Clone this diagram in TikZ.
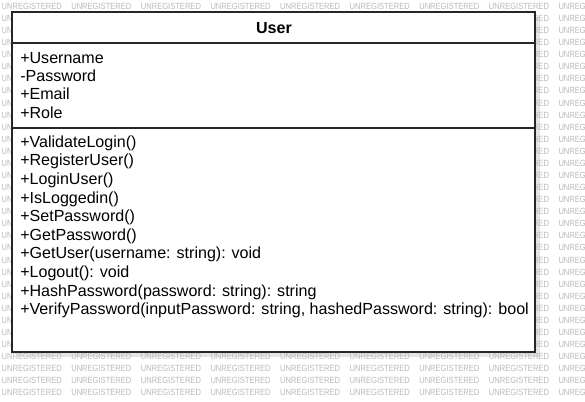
\documentclass[tikz,border=0pt]{standalone}
\usepackage{fontspec}
\setmainfont{Liberation Sans}
\begin{document}
\begin{tikzpicture}[x=0.75pt,y=-0.75pt,
  wm/.style={anchor=west,inner sep=0pt,font=\fontsize{6.75}{7}\selectfont,text=black!27,xscale=0.84},
  member/.style={anchor=base west,inner sep=0pt,font=\fontsize{12.05}{14}\selectfont},
  boxline/.style={line width=1pt,draw=black!85}]
\useasboundingbox (0,0) rectangle (585,402);
\fill[white] (0,0) rectangle (585,402);
% shadow
\fill[black!10] (17,17) rectangle (540,357);
% watermark
\begin{scope}
\clip (0,0) rectangle (585,402);
\foreach \r in {0,...,32}{
  \foreach \c in {0,...,8}{
    \node[wm] (w\r-\c) at ({1.5+69.6*\c},{6.3+12.08*\r}) {UNREGISTERED};
  }
}
\end{scope}
% class box
\draw[boxline,fill=white] (12,12) rectangle (535,352);
\coordinate (hl) at (12,43);
\coordinate (hr) at (535,43);
\coordinate (sl) at (12,128);
\coordinate (sr) at (535,128);
\draw[boxline] (hl) -- (hr);
\draw[boxline] (sl) -- (sr);
\node[anchor=base,inner sep=0pt,font=\fontsize{12.05}{14}\selectfont\bfseries] (title) at (274,33.3) {User};
% attributes
\node[member] (a1) at (20,63.2) {+Username};
\node[member] (a2) at (20,81.6) {-Password};
\node[member] (a3) at (20,100) {+Email};
\node[member] (a4) at (20,118.3) {+Role};
% methods
\node[member] (m1) at (20,147.3) {+ValidateLogin()};
\node[member] (m2) at (20,165.9) {+RegisterUser()};
\node[member] (m3) at (20,184.5) {+LoginUser()};
\node[member] (m4) at (20,203.1) {+IsLoggedin()};
\node[member] (m5) at (20,221.7) {+SetPassword()};
\node[member] (m6) at (20,240.3) {+GetPassword()};
\node[member] (m7) at (20,258.9) {+GetUser(username: string): void};
\node[member] (m8) at (20,277.5) {+Logout(): void};
\node[member] (m9) at (20,296.5) {+HashPassword(password: string): string};
\node[member] (m10) at (20,315) {+VerifyPassword(inputPassword: string, hashedPassword: string): bool};
\end{tikzpicture}
\end{document}
